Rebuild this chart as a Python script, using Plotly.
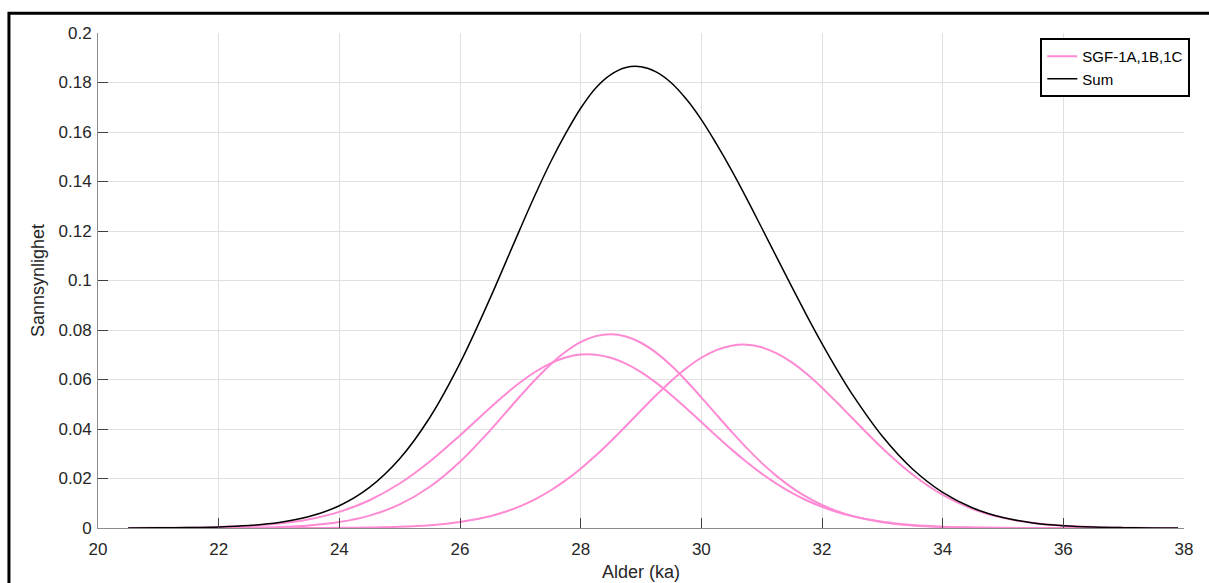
import plotly.graph_objects as go

age = [20.5, 21.0, 21.5, 22.0, 22.5, 23.0, 23.5, 24.0, 24.5, 25.0, 25.5, 26.0,
       26.5, 26.75, 27.0, 27.25, 27.5, 27.75, 28.0, 28.25, 28.5, 28.75, 29.0, 29.25,
       29.5, 29.75, 30.0, 30.25, 30.5, 30.75, 31.0, 31.25, 31.5, 31.75, 32.0, 32.25,
       32.5, 33.0, 33.5, 34.0, 34.5, 35.0, 35.5, 36.0, 36.5, 37.0, 37.5, 37.9]

sgf_1a = [0.0, 0.0, 0.00002, 0.00005, 0.00016, 0.00043, 0.00105, 0.00239, 0.00499, 0.00952, 0.01667, 0.02678,
          0.03946, 0.04638, 0.05333, 0.06001, 0.06609, 0.07122, 0.07511, 0.07752, 0.0783, 0.07739, 0.07485, 0.07085,
          0.06563, 0.05949, 0.05278, 0.04581, 0.03892, 0.03236, 0.02632, 0.02096, 0.01633, 0.01245, 0.00929, 0.00678,
          0.00485, 0.00232, 0.00102, 0.00041, 0.00015, 0.00005, 0.00002, 0.0, 0.0, 0.0, 0.0, 0.0]

sgf_1b = [0.00002, 0.00006, 0.00015, 0.00037, 0.00084, 0.00179, 0.00354, 0.00652, 0.01122, 0.01797, 0.02686, 0.03742,
          0.04862, 0.05398, 0.0589, 0.06314, 0.06652, 0.06887, 0.07006, 0.07003, 0.0688, 0.0664, 0.06299, 0.05872,
          0.05377, 0.0484, 0.0428, 0.0372, 0.03177, 0.02666, 0.02199, 0.01782, 0.01418, 0.0111, 0.00854, 0.00645,
          0.00479, 0.00251, 0.00122, 0.00055, 0.00024, 0.00009, 0.00003, 0.00001, 0.0, 0.0, 0.0, 0.0]

sgf_1c = [0.0, 0.0, 0.0, 0.0, 0.0, 0.00001, 0.00002, 0.00007, 0.00019, 0.00047, 0.00111, 0.0024,
          0.00478, 0.00657, 0.00885, 0.01169, 0.01515, 0.01923, 0.02396, 0.02926, 0.03505, 0.04119, 0.04745, 0.05361,
          0.05941, 0.06455, 0.06879, 0.07189, 0.07368, 0.07406, 0.073, 0.07056, 0.06689, 0.06218, 0.0567, 0.05068,
          0.04444, 0.03223, 0.02161, 0.0134, 0.00769, 0.00408, 0.002, 0.00091, 0.00038, 0.00015, 0.00005, 0.00002]

sum_curve = [0.00002, 0.00006, 0.00017, 0.00042, 0.001, 0.00222, 0.00461, 0.00898, 0.0164, 0.02796, 0.04464, 0.0666,
             0.09286, 0.10693, 0.12108, 0.13484, 0.14776, 0.15932, 0.16960, 0.17780, 0.18320, 0.18610, 0.18640, 0.18430,
             0.17990, 0.17330, 0.16500, 0.15520, 0.14460, 0.13320, 0.12131, 0.10934, 0.0974, 0.08573, 0.0745, 0.06391,
             0.05408, 0.03706, 0.02385, 0.0144, 0.00808, 0.00422, 0.00205, 0.00092, 0.00038, 0.00015, 0.00005, 0.00002]

x_ticks = [20, 22, 24, 26, 28, 30, 32, 34, 36, 38]
y_ticks = [0, 0.02, 0.04, 0.06, 0.08, 0.1, 0.12, 0.14, 0.16, 0.18, 0.2]
y_ticktext = ["0", "0.02", "0.04", "0.06", "0.08", "0.1", "0.12", "0.14", "0.16", "0.18", "0.2"]

PINK = "#ff8ad4"
FONT = "Liberation Sans, Arial, sans-serif"
TXT = "#262626"

fig = go.Figure()
for i, ys in enumerate([sgf_1a, sgf_1b, sgf_1c]):
    fig.add_trace(go.Scatter(
        x=age, y=ys, mode="lines", name="SGF-1A,1B,1C",
        line=dict(color=PINK, width=2, shape="spline", smoothing=1.0),
        legendgroup="sgf", showlegend=(i == 0), hoverinfo="skip"))
fig.add_trace(go.Scatter(
    x=age, y=sum_curve, mode="lines", name="Sum",
    line=dict(color="black", width=1.5, shape="spline", smoothing=1.0),
    hoverinfo="skip"))

axis_common = dict(
    showgrid=True, gridcolor="#e0e0e0", gridwidth=1,
    showline=True, linecolor="#8c8c8c", linewidth=1,
    ticks="inside", ticklen=10, tickcolor="#404040", tickwidth=1,
    zeroline=False, mirror=False,
    tickfont=dict(family=FONT, size=17, color=TXT),
)

fig.update_layout(
    width=1209, height=583,
    margin=dict(l=98, r=25, t=33, b=55, autoexpand=False),
    paper_bgcolor="white", plot_bgcolor="white",
    font=dict(family=FONT, color=TXT),
    xaxis=dict(range=[20, 38], tickvals=x_ticks, ticklabelstandoff=6,
               title=dict(text="Alder (ka)", font=dict(family=FONT, size=18, color=TXT), standoff=6),
               **axis_common),
    yaxis=dict(range=[0, 0.2], tickvals=y_ticks, ticktext=y_ticktext, ticklabelstandoff=2,
               title=dict(text="Sannsynlighet", font=dict(family=FONT, size=18, color=TXT), standoff=9),
               **axis_common),
    legend=dict(x=1.0058, y=0.99, xanchor="right", yanchor="top",
                bgcolor="white", bordercolor="black", borderwidth=2,
                font=dict(family=FONT, size=15, color="black"),
                tracegroupgap=0, itemwidth=30),
    showlegend=True,
    hovermode=False,
    shapes=[dict(type="rect", xref="paper", yref="paper",
                 x0=-0.082, x1=1.2, y0=-0.3, y1=1.0398,
                 line=dict(color="black", width=3), fillcolor="rgba(0,0,0,0)",
                 layer="above")],
)

fig.write_html("out.html",
               config={"displayModeBar": False},
               post_script="document.body.style.margin='0';document.body.style.overflow='hidden';")
